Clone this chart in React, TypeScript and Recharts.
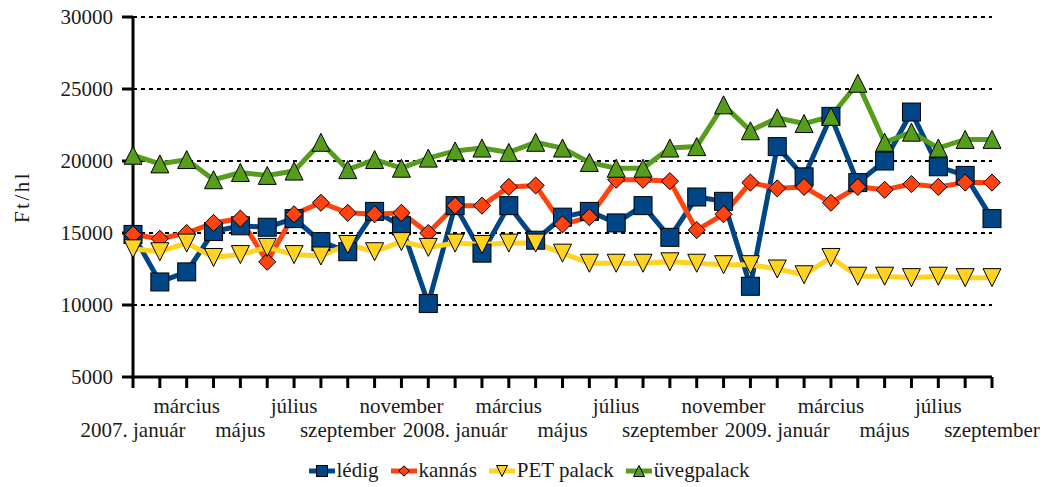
import React from "react";
import { LineChart, Line, XAxis, YAxis, CartesianGrid } from "recharts";

const months = [
  "2007. január", "február", "március", "április", "május", "június",
  "július", "augusztus", "szeptember", "október", "november", "december",
  "2008. január", "február", "március", "április", "május", "június",
  "július", "augusztus", "szeptember", "október", "november", "december",
  "2009. január", "február", "március", "április", "május", "június",
  "július", "augusztus", "szeptember",
];

const ledig = [14900, 11600, 12300, 15100, 15500, 15400, 16000, 14400, 13700, 16500, 15500, 10100, 16900, 13600, 16900, 14500, 16100, 16500, 15700, 16900, 14700, 17500, 17200, 11300, 21000, 18900, 23100, 18500, 20000, 23400, 19600, 19000, 16000];
const kannas = [14900, 14600, 15000, 15700, 16000, 13000, 16300, 17100, 16400, 16300, 16400, 15000, 16900, 16900, 18200, 18300, 15600, 16100, 18700, 18700, 18600, 15200, 16300, 18500, 18100, 18200, 17100, 18200, 18000, 18400, 18200, 18500, 18500];
const pet = [13900, 13700, 14300, 13300, 13500, 14000, 13500, 13400, 14200, 13700, 14400, 14000, 14300, 14200, 14300, 14300, 13600, 12900, 12900, 12900, 13000, 12900, 12800, 12800, 12500, 12100, 13300, 12000, 12000, 11900, 12000, 11900, 11900];
const uveg = [20400, 19800, 20100, 18700, 19200, 19000, 19300, 21300, 19400, 20100, 19500, 20200, 20700, 20900, 20600, 21300, 20900, 19900, 19500, 19500, 20900, 21000, 23900, 22100, 23000, 22600, 23100, 25400, 21300, 22000, 20900, 21500, 21500];

const yTicks = [5000, 10000, 15000, 20000, 25000, 30000];

const data = months.map((m, i) => ({
  month: m,
  ledig: ledig[i],
  kannas: kannas[i],
  pet: pet[i],
  uveg: uveg[i],
}));

const FONT = "'Liberation Serif', 'Times New Roman', serif";
const TXT = "#1a1a1a";

const BLUE = "#004586";
const RED = "#ff420e";
const YELLOW = "#ffd320";
const GREEN = "#579d1c";

type Shape = "square" | "diamond" | "down" | "up";

function marker(shape: Shape, cx: number, cy: number, fill: string, s: number, key?: string) {
  const h = s / 2;
  if (shape === "square") {
    return <rect key={key} x={cx - h} y={cy - h} width={s} height={s} fill={fill} stroke="#000" strokeWidth={1} />;
  }
  if (shape === "diamond") {
    const d = h * 0.95;
    return (
      <polygon key={key} points={`${cx},${cy - d} ${cx + d},${cy} ${cx},${cy + d} ${cx - d},${cy}`}
        fill={fill} stroke="#000" strokeWidth={1} />
    );
  }
  if (shape === "down") {
    return (
      <polygon key={key} points={`${cx - h},${cy - h} ${cx + h},${cy - h} ${cx},${cy + h}`}
        fill={fill} stroke="#000" strokeWidth={1} />
    );
  }
  return (
    <polygon key={key} points={`${cx - h},${cy + h} ${cx + h},${cy + h} ${cx},${cy - h}`}
      fill={fill} stroke="#000" strokeWidth={1} />
  );
}

const dotFor = (shape: Shape, fill: string, s: number) => (props: any) =>
  marker(shape, props.cx, props.cy, fill, s, `${shape}-${props.index}`);

const MonthTick = (props: any) => {
  const { x, y, payload } = props;
  const i = payload.index;
  if (i % 2 !== 0) return <g />;
  const row1 = i % 4 === 2;
  return (
    <text x={x} y={y + (row1 ? 23 : 47)} textAnchor="middle" fontFamily={FONT} fontSize={21} fill={TXT}>
      {payload.value}
    </text>
  );
};

const series = [
  { name: "lédig", color: BLUE, shape: "square" as Shape },
  { name: "kannás", color: RED, shape: "diamond" as Shape },
  { name: "PET palack", color: YELLOW, shape: "down" as Shape },
  { name: "üvegpalack", color: GREEN, shape: "up" as Shape },
];

const LegendBox = () => (
  <div style={{ position: "absolute", left: 0, top: 458, width: 1050, display: "flex", justifyContent: "center", paddingLeft: 10 }}>
    {series.map((s) => (
      <div key={s.name} style={{ display: "flex", alignItems: "center", marginRight: 12 }}>
        <svg width={26} height={20}>
          <line x1={0} y1={10} x2={26} y2={10} stroke={s.color} strokeWidth={5} />
          {marker(s.shape, 13, 10, s.color, 11)}
        </svg>
        <span style={{ fontFamily: FONT, fontSize: 21, color: TXT, marginLeft: 2 }}>{s.name}</span>
      </div>
    ))}
  </div>
);

export default function App() {
  return (
    <div style={{ position: "absolute", left: 0, top: 0, width: 1050, height: 487, background: "#fff" }}>
      <LineChart width={1050} height={487} data={data} margin={{ top: 17, right: 58, left: 0, bottom: 0 }}>
        <CartesianGrid horizontal vertical={false} stroke="#000" strokeWidth={2} strokeDasharray="4 4" />
        <XAxis
          dataKey="month"
          interval={0}
          height={110}
          tick={<MonthTick />}
          tickSize={11}
          tickMargin={2}
          axisLine={{ stroke: "#000", strokeWidth: 3 }}
          tickLine={{ stroke: "#000", strokeWidth: 3 }}
        />
        <YAxis
          width={133}
          domain={[5000, 30000]}
          ticks={yTicks}
          interval={0}
          tickSize={11}
          tickMargin={9}
          axisLine={{ stroke: "#000", strokeWidth: 3 }}
          tickLine={{ stroke: "#000", strokeWidth: 3 }}
          tick={{ fontFamily: FONT, fontSize: 21, fill: TXT }}
          label={{
            content: () => (
              <text x={22} y={197} transform="rotate(-90 22 197)" textAnchor="middle" dominantBaseline="central"
                fontFamily={FONT} fontSize={21} fill={TXT} letterSpacing={2.5}>
                Ft/hl
              </text>
            ),
          }}
        />
        {series.map((s, k) => (
          <Line
            key={s.name}
            type="linear"
            dataKey={["ledig", "kannas", "pet", "uveg"][k]}
            name={s.name}
            stroke={s.color}
            strokeWidth={5}
            dot={dotFor(s.shape, s.color, 18)}
            activeDot={false}
            isAnimationActive={false}
          />
        ))}
      </LineChart>
      <LegendBox />
    </div>
  );
}
